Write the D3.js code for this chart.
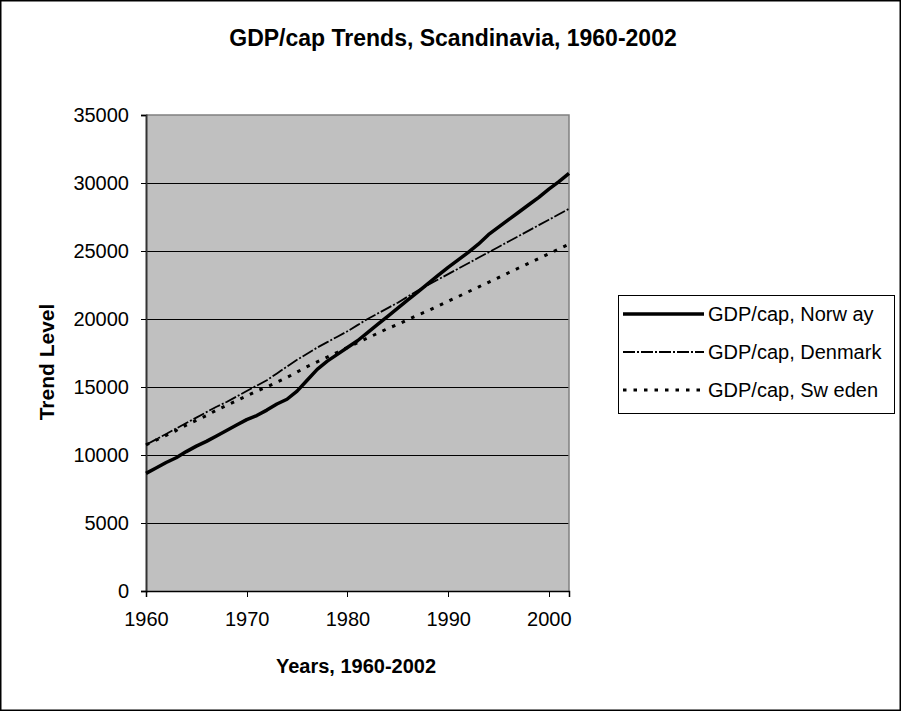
<!DOCTYPE html>
<html>
<head>
<meta charset="utf-8">
<script src="https://cdn.jsdelivr.net/npm/d3@7"></script>
<style>
  body { margin: 0; background: #fff; }
  text { font-family: "Liberation Sans", Arial, sans-serif; fill: #000; }
</style>
</head>
<body>
<svg width="901" height="711"></svg>
<script>
const years = [
  1960, 1961, 1962, 1963, 1964, 1965, 1966, 1967, 1968, 1969,
  1970, 1971, 1972, 1973, 1974, 1975, 1976, 1977, 1978, 1979,
  1980, 1981, 1982, 1983, 1984, 1985, 1986, 1987, 1988, 1989,
  1990, 1991, 1992, 1993, 1994, 1995, 1996, 1997, 1998, 1999,
  2000, 2001, 2002
];

const norway = [
  8650, 9050, 9450, 9800, 10250, 10650, 11000, 11400, 11800, 12200,
  12600, 12900, 13300, 13750, 14100, 14700, 15500, 16300, 16900, 17400,
  17900, 18400, 19000, 19600, 20200, 20800, 21400, 22000, 22600, 23200,
  23800, 24350, 24900, 25500, 26200, 26750, 27300, 27850, 28400, 28950,
  29550, 30100, 30700
];

const denmark = [
  10750, 11150, 11550, 11950, 12350, 12750, 13150, 13550, 13900, 14300,
  14700, 15100, 15500, 16000, 16500, 17000, 17450, 17900, 18300, 18700,
  19100, 19550, 20000, 20400, 20800, 21200, 21650, 22100, 22500, 22900,
  23300, 23700, 24100, 24500, 24900, 25300, 25700, 26100, 26500, 26900,
  27300, 27700, 28100
];

const sweden = [
  10750, 11100, 11450, 11800, 12200, 12550, 12900, 13300, 13650, 14000,
  14350, 14700, 15000, 15350, 15700, 16100, 16500, 16850, 17200, 17550,
  17900, 18250, 18600, 18950, 19300, 19600, 19950, 20300, 20600, 20950,
  21300, 21650, 22000, 22350, 22700, 23050, 23400, 23750, 24100, 24450,
  24800, 25150, 25500
];

const seriesNames = ["GDP/cap, Norw ay", "GDP/cap, Denmark", "GDP/cap, Sw eden"];
const yTicks = [0, 5000, 10000, 15000, 20000, 25000, 30000, 35000];
const xTicks = [1960, 1970, 1980, 1990, 2000];

const svg = d3.select("svg");

const plot = { left: 146, right: 569, top: 115, bottom: 591 };

const x = d3.scaleLinear()
  .domain([1960, 2002])
  .range([plot.left, plot.right]);

const y = d3.scaleLinear()
  .domain([0, 35000])
  .range([plot.bottom, plot.top]);

// chart area border
svg.append("rect")
  .attr("x", 0.75).attr("y", 0.75)
  .attr("width", 899.5).attr("height", 709.5)
  .attr("fill", "#fff")
  .attr("stroke", "#000")
  .attr("stroke-width", 1.5);

svg.append("text")
  .attr("x", 453)
  .attr("y", 46)
  .attr("text-anchor", "middle")
  .attr("font-size", 23)
  .attr("font-weight", 700)
  .text("GDP/cap Trends, Scandinavia, 1960-2002");

// plot area
svg.append("rect")
  .attr("x", plot.left).attr("y", plot.top)
  .attr("width", plot.right - plot.left)
  .attr("height", plot.bottom - plot.top)
  .attr("fill", "#c0c0c0");

svg.append("g")
  .attr("shape-rendering", "crispEdges")
  .selectAll("line")
  .data(yTicks.filter(d => d > 0 && d < 35000))
  .join("line")
  .attr("x1", plot.left).attr("x2", plot.right)
  .attr("y1", d => y(d)).attr("y2", d => y(d))
  .attr("stroke", "#000")
  .attr("stroke-width", 1);

svg.append("path")
  .attr("d", `M${plot.left},${plot.top}H${plot.right}V${plot.bottom}`)
  .attr("fill", "none")
  .attr("stroke", "#808080")
  .attr("stroke-width", 1.5);

// axes
const yAxis = svg.append("g")
  .attr("transform", `translate(${plot.left},0)`)
  .call(d3.axisLeft(y).tickValues(yTicks).tickSize(5).tickPadding(12).tickFormat(d3.format("d")));

const xAxis = svg.append("g")
  .attr("transform", `translate(0,${plot.bottom})`)
  .call(d3.axisBottom(x).tickValues(xTicks).tickSize(6).tickPadding(15).tickFormat(d3.format("d")));

yAxis.select(".domain").attr("stroke", "#333").attr("stroke-width", 2);
xAxis.select(".domain").attr("stroke", "#000").attr("stroke-width", 1.5);

[yAxis, xAxis].forEach(g => {
  g.selectAll(".tick line").attr("stroke", "#000").attr("shape-rendering", "crispEdges");
  g.selectAll(".tick text")
    .attr("font-size", 20)
    .attr("font-family", "Liberation Sans, Arial, sans-serif")
    .attr("fill", "#000");
});

svg.append("text")
  .attr("x", 356)
  .attr("y", 673)
  .attr("text-anchor", "middle")
  .attr("font-size", 20)
  .attr("font-weight", 700)
  .text("Years, 1960-2002");

svg.append("text")
  .attr("transform", "translate(54, 362) rotate(-90)")
  .attr("text-anchor", "middle")
  .attr("font-size", 21)
  .attr("font-weight", 700)
  .text("Trend Level");

// series
const styles = [
  { width: 3.5, dash: null },
  { width: 1.8, dash: "12,2,2,2" },
  { width: 3, dash: "3.5,7" }
];

const series = [norway, denmark, sweden].map((vals, i) => ({
  name: seriesNames[i],
  style: styles[i],
  points: years.map((yr, j) => [yr, vals[j]])
}));

const line = d3.line()
  .x(d => x(d[0]))
  .y(d => y(d[1]));

svg.append("g")
  .selectAll("path")
  .data(series)
  .join("path")
  .attr("d", d => line(d.points))
  .attr("fill", "none")
  .attr("stroke", "#000")
  .attr("stroke-width", d => d.style.width)
  .attr("stroke-dasharray", d => d.style.dash)
  .attr("stroke-linejoin", "round");

// legend
const legendG = svg.append("g")
  .attr("transform", "translate(618, 295)");

legendG.append("rect")
  .attr("x", 0.5).attr("y", 0.5)
  .attr("width", 276).attr("height", 118)
  .attr("fill", "#fff")
  .attr("stroke", "#000")
  .attr("stroke-width", 1);

const legendItems = legendG.selectAll("g.item")
  .data(series)
  .join("g")
  .attr("class", "item")
  .attr("transform", (d, i) => `translate(0, ${19 + i * 38})`);

legendItems.append("line")
  .attr("x1", 5).attr("x2", 86)
  .attr("stroke", "#000")
  .attr("stroke-width", d => d.style.width)
  .attr("stroke-dasharray", d => d.style.dash);

legendItems.append("text")
  .attr("x", 90)
  .attr("dy", "0.35em")
  .attr("font-size", 20)
  .text(d => d.name);
</script>
</body>
</html>
